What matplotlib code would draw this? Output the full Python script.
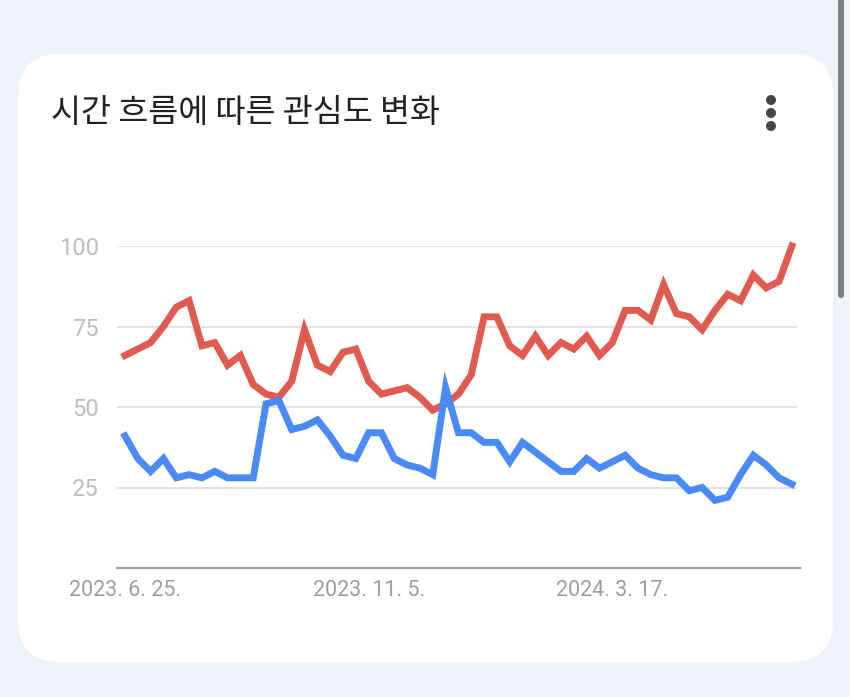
import matplotlib.pyplot as plt
import pandas as pd
from matplotlib.patches import FancyBboxPatch, Circle

# weekly interest values (Google Trends style)
red_vals = [66, 68, 70, 75, 81, 83, 69, 70, 63, 66, 57, 54, 53, 58, 74, 63, 61, 67,
            68, 58, 54, 55, 56, 53, 49, 51, 54, 60, 78, 78, 69, 66, 72, 66, 70, 68,
            72, 66, 70, 80, 80, 77, 88, 79, 78, 74, 80, 85, 83, 91, 87, 89, 100]
blue_vals = [41, 34, 30, 34, 28, 29, 28, 30, 28, 28, 28, 51, 52, 43, 44, 46, 41, 35,
             34, 42, 42, 34, 32, 31, 29, 56, 42, 42, 39, 39, 33, 39, 36, 33, 30, 30,
             34, 31, 33, 35, 31, 29, 28, 28, 24, 25, 21, 22, 29, 35, 32, 28, 26]
weeks = pd.date_range("2023-06-25", periods=len(red_vals), freq="7D")

title = "시간 흐름에 따른 관심도 변화"
y_ticks = [25, 50, 75, 100]
x_tick_dates = ["2023-06-25", "2023-11-05", "2024-03-17"]
x_tick_labels = ["2023. 6. 25.", "2023. 11. 5.", "2024. 3. 17."]

W, H = 850, 697
fig = plt.figure(figsize=(W / 100, H / 100), dpi=100, facecolor="#eff2f9")

# background layer in pixel coordinates
bg = fig.add_axes([0, 0, 1, 1])
bg.set_xlim(0, W)
bg.set_ylim(H, 0)
bg.axis("off")
bg.add_patch(FancyBboxPatch((18, 54), 815, 608,
                            boxstyle="round,pad=0,rounding_size=42",
                            facecolor="white", edgecolor="none"))
bg.add_patch(FancyBboxPatch((838, -10), 6, 308,
                            boxstyle="round,pad=0,rounding_size=3",
                            facecolor="#7e8086", edgecolor="none"))
for cy in (100, 113, 126):
    bg.add_patch(Circle((771, cy), 4.3, color="#444746"))
bg.text(51, 113, title, fontsize=23.5, color="#202124", va="center", ha="left",
        family=["Noto Sans CJK KR", "DejaVu Sans"])

# chart
ax = fig.add_axes([117 / W, 1 - 568 / H, 680 / W, 322 / H])
ax.set_facecolor("none")
ax.plot(weeks, red_vals, color="#e05a4f", lw=5, clip_on=False,
        solid_joinstyle="miter", zorder=3)
ax.plot(weeks, blue_vals, color="#4a8af4", lw=5, clip_on=False,
        solid_joinstyle="miter", zorder=3)

step = weeks[1] - weeks[0]
ax.set_xlim(weeks[0] - step * 0.62, weeks[-1] + step * 0.4)
ax.set_ylim(0, 100)

for v in y_ticks:
    ax.axhline(v, color="#e0e0e0", lw=1.3, zorder=1)
ax.axhline(0, color="#9e9e9e", lw=1.6, zorder=2, xmax=1.004, clip_on=False)

ax.set_yticks(y_ticks)
ax.set_yticklabels([str(v) for v in y_ticks])
ax.set_xticks(pd.to_datetime(x_tick_dates))
ax.set_xticklabels(x_tick_labels)
ax.tick_params(axis="y", length=0, pad=13, labelsize=17, labelcolor="#bdbdbd")
ax.tick_params(axis="x", length=0, pad=9, labelsize=15.5, labelcolor="#9e9e9e")
for lab in ax.get_xticklabels() + ax.get_yticklabels():
    lab.set_family("Roboto")
for s in ax.spines.values():
    s.set_visible(False)

fig.savefig("out.png", dpi=100, facecolor=fig.get_facecolor())
